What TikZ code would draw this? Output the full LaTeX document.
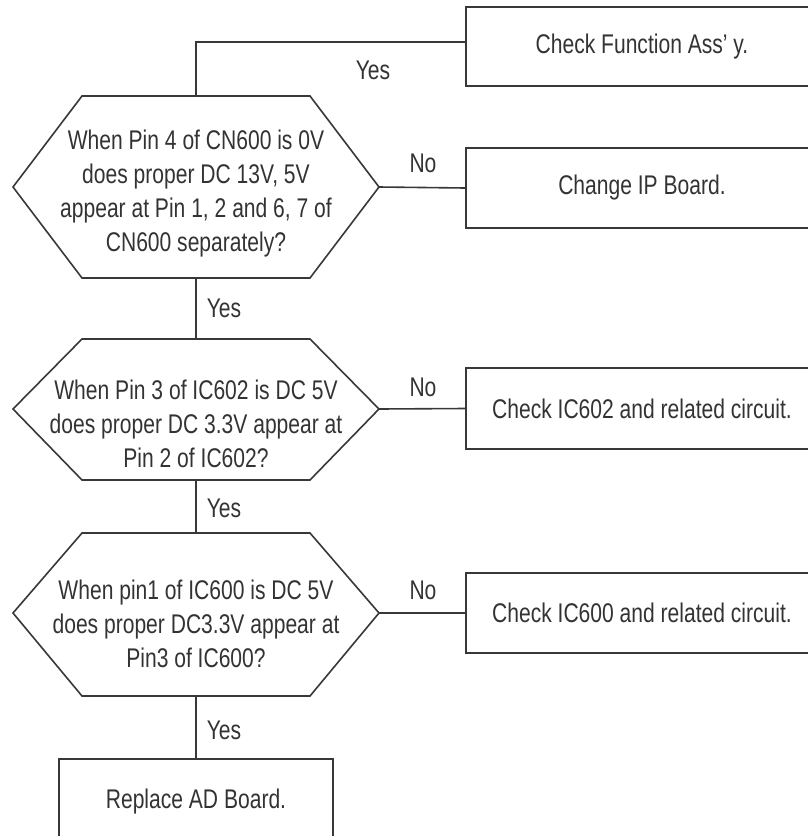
\documentclass[tikz,border=0pt]{standalone}
\usepackage{fontspec}
\setmainfont{Liberation Sans}[FakeStretch=0.78]
\begin{document}
\begin{tikzpicture}[x=1pt,y=-1pt,
  line/.style={draw=black!78, line width=1.6pt},
  txt/.style={text=black!80, font=\fontsize{27}{34}\selectfont, align=center, inner sep=0pt},
  lbl/.style={text=black!80, font=\fontsize{27}{34}\selectfont, inner sep=0pt},
  actbox/.style={line, rectangle, text=black!80, font=\fontsize{27}{34}\selectfont,
                 align=center, inner sep=0pt, minimum width=352pt}]
\useasboundingbox (0,0) rectangle (808,836);
\clip (0,0) rectangle (808,836);

% decision hexagons
\draw[line] (13,187) -- (82,96) -- (196,96) coordinate (h1n) -- (310,96)
  -- (379,187) coordinate (h1e) -- (310,278) -- (196,278) coordinate (h1s) -- (82,278) -- cycle;
\draw[line] (13,409) -- (82,339) -- (196,339) coordinate (h2n) -- (310,339)
  -- (379,409) coordinate (h2e) -- (310,480) -- (196,480) coordinate (h2s) -- (82,480) -- cycle;
\draw[line] (13,613) -- (82,533) -- (196,533) coordinate (h3n) -- (310,533)
  -- (379,613) coordinate (h3e) -- (310,696) -- (196,696) coordinate (h3s) -- (82,696) -- cycle;

\node[txt] (q1) at (196,194) {When Pin 4 of CN600 is 0V\\does proper DC 13V, 5V\\appear at Pin 1, 2 and 6, 7 of\\CN600 separately?};
\node[txt] (q2) at (196,424) {When Pin 3 of IC602 is DC 5V\\does proper DC 3.3V appear at\\Pin 2 of IC602?};
\node[txt] (q3) at (196,624) {When pin1 of IC600 is DC 5V\\does proper DC3.3V appear at\\Pin3 of IC600?};

% action boxes
\node[actbox, minimum height=79pt] (b1) at (642,46.5) {Check Function Ass' y.};
\node[actbox, minimum height=80pt] (b2) at (642,188) {Change IP Board.};
\node[actbox, minimum height=81pt] (b3) at (642,408.5) {Check IC602 and related circuit.};
\node[actbox, minimum height=80pt] (b4) at (642,613) {Check IC600 and related circuit.};
\node[actbox, minimum width=274pt, minimum height=86pt] (b5) at (196,802) {Replace AD Board.};

% connectors
\draw[line] (h1n) |- ([yshift=4.5pt]b1.west);
\draw[line] (h1e) -- (b2.west);
\draw[line] (h1s) -- (h2n);
\draw[line] (h2e) -- (b3.west);
\draw[line] (h2s) -- (h3n);
\draw[line] (h3e) -- (b4.west);
\draw[line] (h3s) -- (b5.north);

% branch labels
\node[lbl] (y1) at (373,70) {Yes};
\node[lbl] (n1) at (423,163) {No};
\node[lbl] (y2) at (224,308) {Yes};
\node[lbl] (n2) at (423,387) {No};
\node[lbl] (y3) at (224,508) {Yes};
\node[lbl] (n3) at (423,590) {No};
\node[lbl] (y4) at (224,730) {Yes};
\end{tikzpicture}
\end{document}
